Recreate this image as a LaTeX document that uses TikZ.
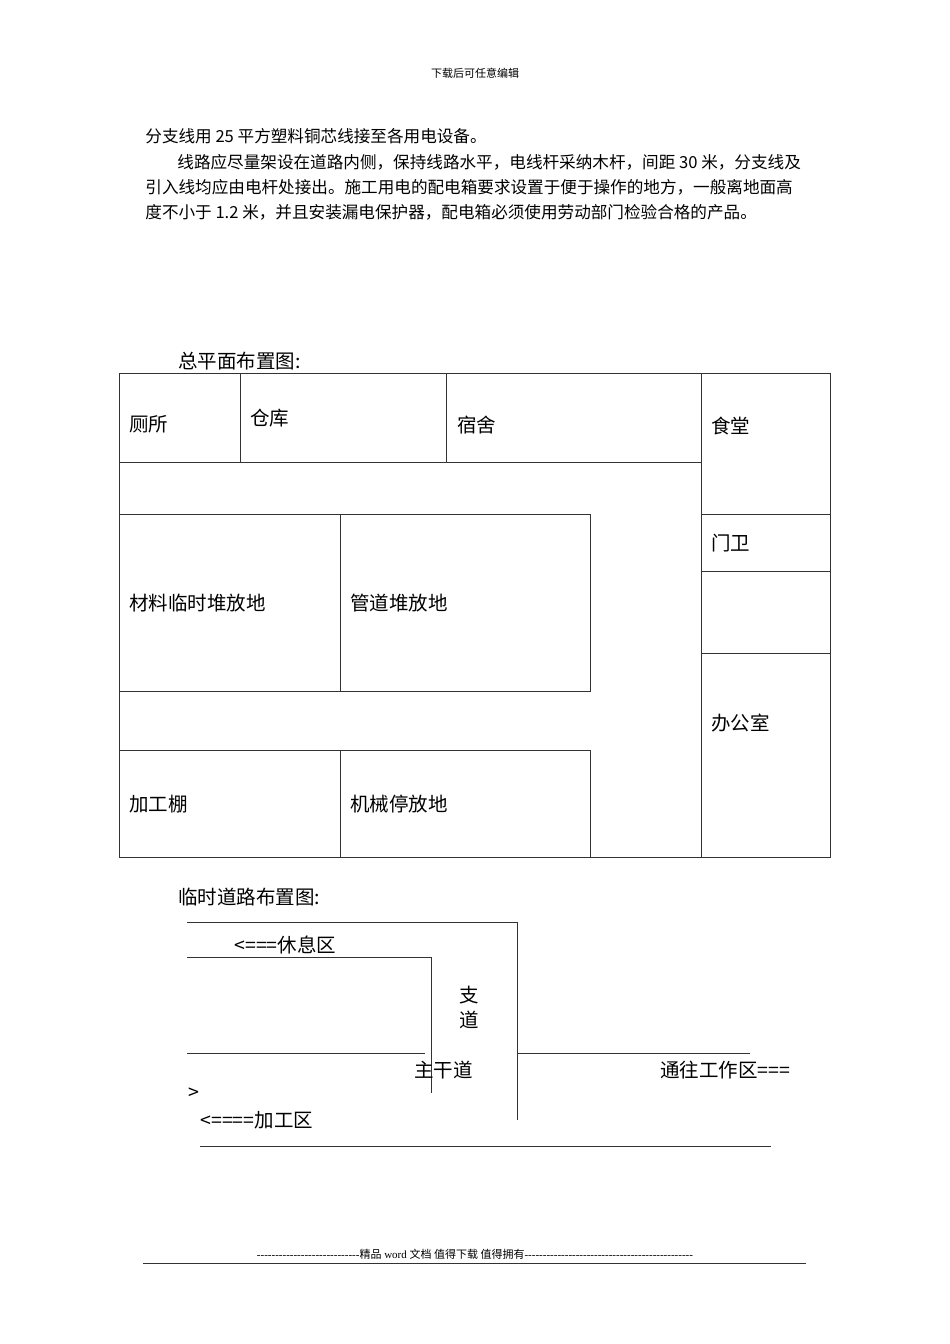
\documentclass[tikz,border=0pt]{standalone}
\usepackage{fontspec}
\setmainfont{Noto Sans CJK SC}
\newfontfamily\serifnum{Liberation Serif}
\begin{document}
\begin{tikzpicture}[x=1pt,y=-1pt,line width=0.8pt,
  lab/.style={anchor=west,inner sep=0pt,font=\fontsize{19.5}{20}\selectfont},
  para/.style={anchor=west,inner sep=0pt,font=\fontsize{16.6}{17}\selectfont},
  ln/.style={draw=black!80}]
\useasboundingbox[fill=white] (0,0) rectangle (950,1344);
\node[inner sep=0pt,font=\fontsize{11}{11}\selectfont] (hdr) at (475,73) {下载后可任意编辑};
\node[para] (p1) at (145,136) {分支线用 25 平方塑料铜芯线接至各用电设备。};
\node[para] (p2) at (177,162) {线路应尽量架设在道路内侧，保持线路水平，电线杆采纳木杆，间距 30 米，分支线及};
\node[para] (p3) at (145,187) {引入线均应由电杆处接出。施工用电的配电箱要求设置于便于操作的地方，一般离地面高};
\node[para] (p4) at (145,212) {度不小于 1.2 米，并且安装漏电保护器，配电箱必须使用劳动部门检验合格的产品。};
% plan
\node[lab] (t1) at (178,361) {总平面布置图:};
\draw[ln] (119,373) rectangle (830,857);
\draw[ln] (119,462) -- (701,462);
\draw[ln] (240,373) -- (240,462);
\draw[ln] (446,373) -- (446,462);
\draw[ln] (701,373) -- (701,857);
\draw[ln] (701,514) -- (830,514);
\draw[ln] (701,571) -- (830,571);
\draw[ln] (701,653) -- (830,653);
\draw[ln] (119,514) rectangle (590,691);
\draw[ln] (340,514) -- (340,691);
\draw[ln] (119,750) rectangle (590,857);
\draw[ln] (340,750) -- (340,857);
\node[lab] (a1) at (129,424) {厕所};
\node[lab] (a2) at (250,418) {仓库};
\node[lab] (a3) at (457,425) {宿舍};
\node[lab] (a4) at (711,426) {食堂};
\node[lab] (a5) at (711,543) {门卫};
\node[lab] (a6) at (129,603) {材料临时堆放地};
\node[lab] (a7) at (350,603) {管道堆放地};
\node[lab] (a8) at (711,723) {办公室};
\node[lab] (a9) at (129,804) {加工棚};
\node[lab] (a10) at (350,804) {机械停放地};
% roads
\node[lab] (t2) at (178,897) {临时道路布置图:};
\draw[ln] (187,922) -- (517,922) -- (517,1120);
\draw[ln] (187,957) -- (431,957) -- (431,1093);
\draw[ln] (187,1053) -- (425,1053);
\draw[ln] (517,1053) -- (750,1053);
\draw[ln] (200,1146) -- (771,1146);
\node[lab] (r1) at (234,945) {<===休息区};
\node[lab] (r2) at (459,995) {支};
\node[lab] (r3) at (459,1020) {道};
\node[lab] (r4) at (414,1070) {主干道};
\node[lab] (r5) at (660,1070) {通往工作区===};
\node[lab] (r6) at (188,1094) {>};
\node[lab] (r7) at (200,1120) {<====加工区};
% footer
\node[inner sep=0pt,font=\fontsize{11}{11}\selectfont] (ftr) at (475,1254) {{\serifnum ----------------------------}精品{\serifnum\ word }文档 值得下载 值得拥有{\serifnum ----------------------------------------------}};
\draw[ln] (143,1263) -- (806,1263);
\end{tikzpicture}
\end{document}
